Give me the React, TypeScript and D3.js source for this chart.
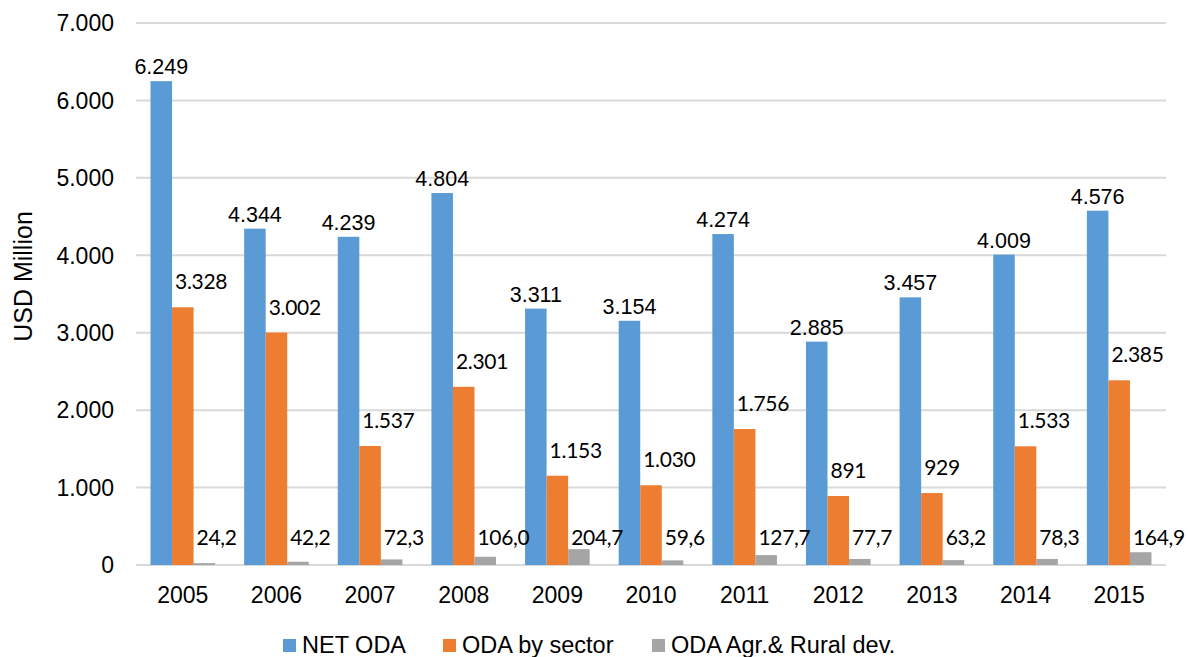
import React from 'react';
import * as d3 from 'd3';

const years = ['2005', '2006', '2007', '2008', '2009', '2010', '2011', '2012', '2013', '2014', '2015'];
const netOda = [6249, 4344, 4239, 4804, 3311, 3154, 4274, 2885, 3457, 4009, 4576];
const odaBySector = [3328, 3002, 1537, 2301, 1153, 1030, 1756, 891, 929, 1533, 2385];
const odaAgrRural = [24.2, 42.2, 72.3, 106.0, 204.7, 59.6, 127.7, 77.7, 63.2, 78.3, 164.9];
const yTicks = [0, 1000, 2000, 3000, 4000, 5000, 6000, 7000];
const seriesNames = ['NET ODA', 'ODA by sector', 'ODA Agr.& Rural dev.'];
const colors = ['#5B9BD5', '#ED7D31', '#A5A5A5'];

const locale = d3.formatLocale({ decimal: ',', thousands: '.', grouping: [3], currency: ['', ''] });
const fmtInt = locale.format(',.0f');
const fmtDec = locale.format(',.1f');

const arial = '"Liberation Sans", Arial, sans-serif';
const calibri = 'Lato, "Open Sans", sans-serif';

export default function App() {
  const width = 1188;
  const height = 657;
  const left = 136, right = 1166, top = 23, bottom = 565;

  const x = d3.scaleBand().domain(years).range([left, right]).paddingInner(0.31).paddingOuter(0.155);
  const x1 = d3.scaleBand().domain(['0', '1', '2']).range([0, x.bandwidth()]);
  const y = d3.scaleLinear().domain([0, 7000]).range([bottom, top]);

  const series = [netOda, odaBySector, odaAgrRural];
  const barX = (yr: string, k: number) => (x(yr) as number) + (x1(String(k)) as number);

  // legend: swatch x positions
  const legendX = [283, 443, 652];

  return (
    <svg width={width} height={height} style={{ position: 'absolute', left: 0, top: 0, background: '#fff' }}>
      {yTicks.map((t) => (
        <g key={t}>
          <line x1={left} x2={right} y1={y(t)} y2={y(t)} stroke="#D9D9D9" strokeWidth={2} />
          <text x={114} y={y(t)} dy="0.36em" textAnchor="end" fontFamily={arial} fontSize={23} fill="#000">
            {fmtInt(t)}
          </text>
        </g>
      ))}
      <text
        transform={`translate(32, ${(205 + 348) / 2}) rotate(-90)`}
        textAnchor="middle"
        fontFamily={arial}
        fontSize={25}
        fill="#000"
      >
        USD Million
      </text>

      {/* bars */}
      {years.map((yr, i) => (
        <g key={yr}>
          {series.map((s, k) => (
            <rect
              key={k}
              x={barX(yr, k)}
              y={y(s[i])}
              width={x1.bandwidth()}
              height={y(0) - y(s[i])}
              fill={colors[k]}
            />
          ))}
          <text
            x={(x(yr) as number) + x.bandwidth() / 2}
            y={603}
            textAnchor="middle"
            fontFamily={arial}
            fontSize={23}
            fill="#000"
          >
            {yr}
          </text>
        </g>
      ))}

      {/* value labels */}
      {years.map((yr, i) => (
        <g key={'lbl' + yr}>
          <text
            x={barX(yr, 0) + x1.bandwidth() / 2}
            y={y(netOda[i]) - 7}
            textAnchor="middle"
            fontFamily={arial}
            fontSize={21.5}
            fill="#000"
          >
            {fmtInt(netOda[i])}
          </text>
          <text
            x={barX(yr, 1) + 3}
            y={y(odaBySector[i]) - 18}
            fontFamily={calibri}
            fontSize={21}
            letterSpacing={-0.3}
            fill="#000"
          >
            {fmtInt(odaBySector[i])}
          </text>
          <text
            x={barX(yr, 2) + 3}
            y={y(0) - 20}
            fontFamily={calibri}
            fontSize={21}
            letterSpacing={-0.3}
            fill="#000"
          >
            {fmtDec(odaAgrRural[i])}
          </text>
        </g>
      ))}

      {seriesNames.map((name, k) => (
        <g key={name}>
          <rect x={legendX[k]} y={639} width={13} height={13} fill={colors[k]} />
          <text x={legendX[k] + 19} y={653} fontFamily={arial} fontSize={23.5} fill="#000">
            {name}
          </text>
        </g>
      ))}
    </svg>
  );
}
